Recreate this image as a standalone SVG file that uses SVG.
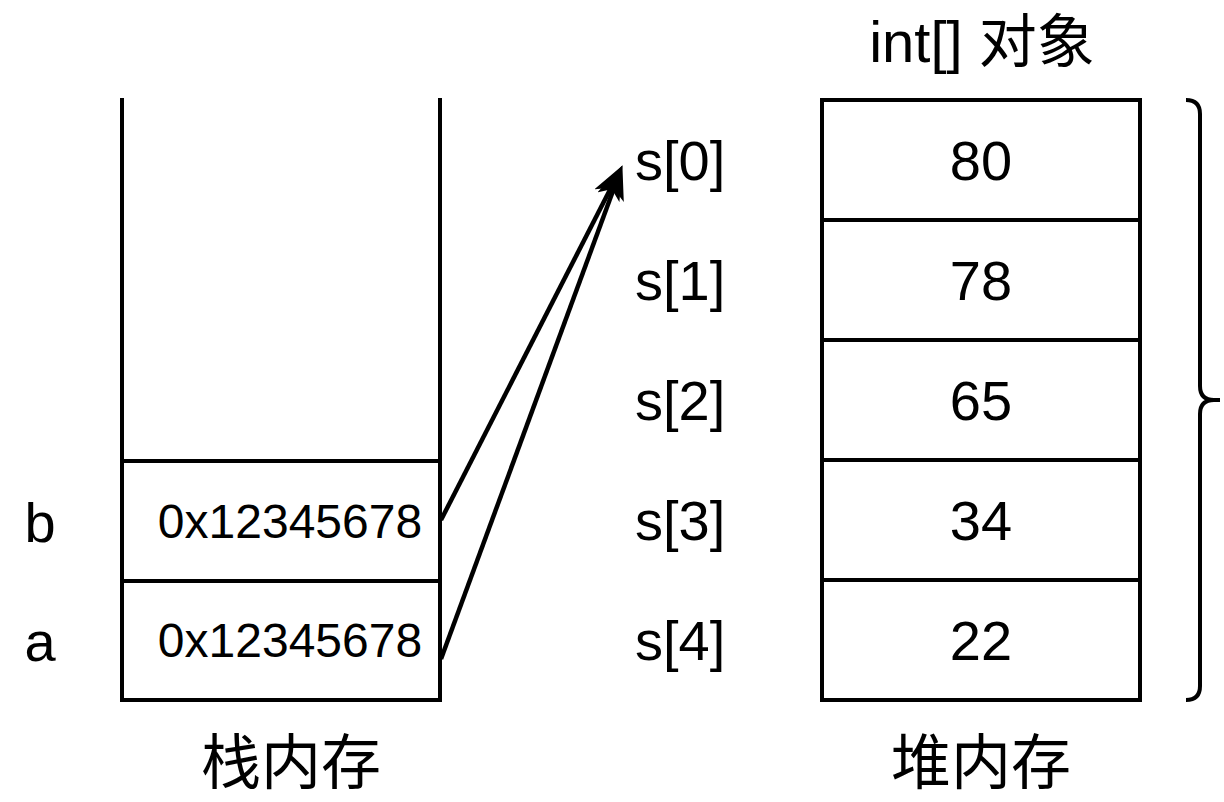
<svg xmlns="http://www.w3.org/2000/svg" width="1224" height="802" viewBox="0 0 1224 802">
<style>
.ln{fill:none;stroke:#000;stroke-width:4;stroke-linecap:square}
.t{font-family:"Liberation Sans","Noto Sans CJK SC",Arial,sans-serif;fill:#000}
.big{font-size:56px}
.mid{font-size:48px}
.cjk{font-family:"Noto Sans CJK SC","Liberation Sans",sans-serif;font-size:60px;fill:#000}
.con{stroke:#000;stroke-width:4.5;fill:none}
</style>
<defs>
<marker id="arr" viewBox="0 0 34 28" refX="21" refY="14" markerWidth="34" markerHeight="28" markerUnits="userSpaceOnUse" orient="auto">
<path d="M0,0 L34,14 L0,28 L9,14 z" fill="#000"/>
</marker>
</defs>
<rect width="1224" height="802" fill="#fff"/>
<g id="stack">
<path class="ln" d="M122,100 L122,700 L440,700 L440,100"/>
<line class="ln" x1="122" y1="461" x2="440" y2="461"/>
<line class="ln" x1="122" y1="581" x2="440" y2="581"/>
<text class="t mid" x="290" y="538" text-anchor="middle">0x12345678</text>
<text class="t mid" x="290" y="657" text-anchor="middle">0x12345678</text>
<text class="t big" x="40" y="542" text-anchor="middle">b</text>
<text class="t big" x="40" y="661" text-anchor="middle">a</text>
<text class="cjk" x="291" y="784" text-anchor="middle">栈内存</text>
</g>
<g id="heap">
<rect class="ln" x="822" y="100" width="318" height="600"/>
<line class="ln" x1="822" y1="220" x2="1140" y2="220"/>
<line class="ln" x1="822" y1="340" x2="1140" y2="340"/>
<line class="ln" x1="822" y1="460" x2="1140" y2="460"/>
<line class="ln" x1="822" y1="580" x2="1140" y2="580"/>
<text class="t big" x="981" y="180" text-anchor="middle">80</text>
<text class="t big" x="981" y="300" text-anchor="middle">78</text>
<text class="t big" x="981" y="420" text-anchor="middle">65</text>
<text class="t big" x="981" y="540" text-anchor="middle">34</text>
<text class="t big" x="981" y="660" text-anchor="middle">22</text>
<text class="t" style="font-size:58px" x="982" y="62" text-anchor="middle">int[] 对象</text>
<text class="cjk" x="981" y="784" text-anchor="middle">堆内存</text>
</g>
<g id="labels">
<text class="t big" x="635" y="180">s[0]</text>
<text class="t big" x="635" y="300">s[1]</text>
<text class="t big" x="635" y="420">s[2]</text>
<text class="t big" x="635" y="540">s[3]</text>
<text class="t big" x="635" y="660">s[4]</text>
</g>
<g id="brace">
<path fill="none" stroke="#000" stroke-width="4" d="M1186,100 Q1200,100 1200,114 L1200,386 Q1200,400 1214,400 L1220,400 M1214,400 Q1200,400 1200,414 L1200,686 Q1200,700 1186,700"/>
</g>
<g id="connectors">
<line class="con" x1="441" y1="520" x2="616.5" y2="177.0" marker-end="url(#arr)"/>
<line class="con" x1="441" y1="659" x2="617.9" y2="177.5" marker-end="url(#arr)"/>
</g>
</svg>
